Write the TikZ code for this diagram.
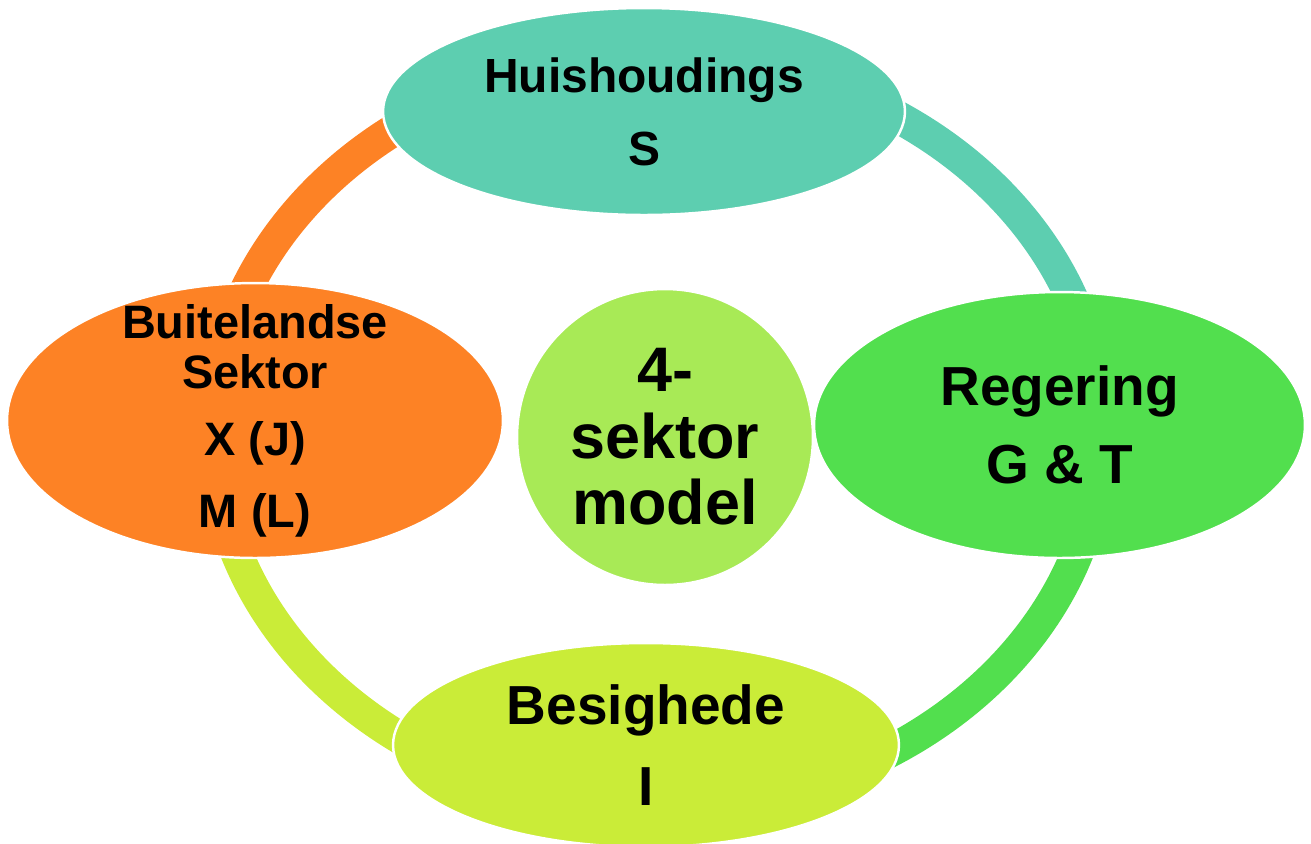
\documentclass[tikz,border=0pt]{standalone}
\usepackage{fontspec}
\setmainfont{Liberation Sans}
\usetikzlibrary{shapes.geometric}

\definecolor{huisteal}{RGB}{93,206,176}
\definecolor{buiteorange}{RGB}{253,130,37}
\definecolor{regeringgreen}{RGB}{82,223,78}
\definecolor{besiglime}{RGB}{202,236,56}
\definecolor{modelgreen}{RGB}{168,234,86}

\begin{document}
\begin{tikzpicture}[x=0.02cm, y=-0.02cm,
    sector/.style={ellipse, draw=white, line width=1.4pt, inner sep=0pt, align=center},
    ringarc/.style={line width=18.5pt, line cap=butt}]
    \useasboundingbox (0,0) rectangle (1311,843);

    % Ring behind the sectors
    \coordinate (ringc) at (657,432);
    \draw[ringarc, huisteal] (ringc) ++(0:8.88cm and 7.5cm) arc[start angle=0, end angle=90, x radius=8.88cm, y radius=7.5cm];
    \draw[ringarc, buiteorange] (ringc) ++(90:8.88cm and 7.5cm) arc[start angle=90, end angle=180, x radius=8.88cm, y radius=7.5cm];
    \draw[ringarc, besiglime] (ringc) ++(180:8.88cm and 7.5cm) arc[start angle=180, end angle=270, x radius=8.88cm, y radius=7.5cm];
    \draw[ringarc, regeringgreen] (ringc) ++(270:8.88cm and 7.5cm) arc[start angle=270, end angle=360, x radius=8.88cm, y radius=7.5cm];

    % Households: S
    \node[sector, fill=huisteal, minimum width=10.44cm, minimum height=4.14cm,
          font=\fontsize{27.3}{41.5}\selectfont\bfseries] (huishoudings) at (644,111.5) {Huishoudings\\S};

    % Government: G & T
    \node[sector, fill=regeringgreen, minimum width=9.82cm, minimum height=5.32cm,
          font=\fontsize{31.3}{44.4}\selectfont\bfseries] (regering) at (1059.5,425) {Regering\\G \& T};

    % Business: I
    \node[sector, fill=besiglime, minimum width=10.12cm, minimum height=4.08cm,
          font=\fontsize{31.3}{46.1}\selectfont\bfseries] (besighede) at (646,745) {Besighede\\I};

    % Foreign sector: X (J), M (L)
    \node[sector, fill=buiteorange, minimum width=9.92cm, minimum height=5.5cm, inner ysep=-12pt,
          font=\fontsize{26.7}{28.5}\selectfont\bfseries] (buitelandse) at (255,420.5) {Buitelandse\\Sektor\\[9.7pt]X (J)\\[12.5pt]M (L)};

    % Centre: the model
    \node[sector, circle, fill=modelgreen, minimum size=5.92cm,
          font=\fontsize{35.8}{37.8}\selectfont\bfseries] (model) at (665,437) {4-\\sektor\\model};
\end{tikzpicture}
\end{document}
